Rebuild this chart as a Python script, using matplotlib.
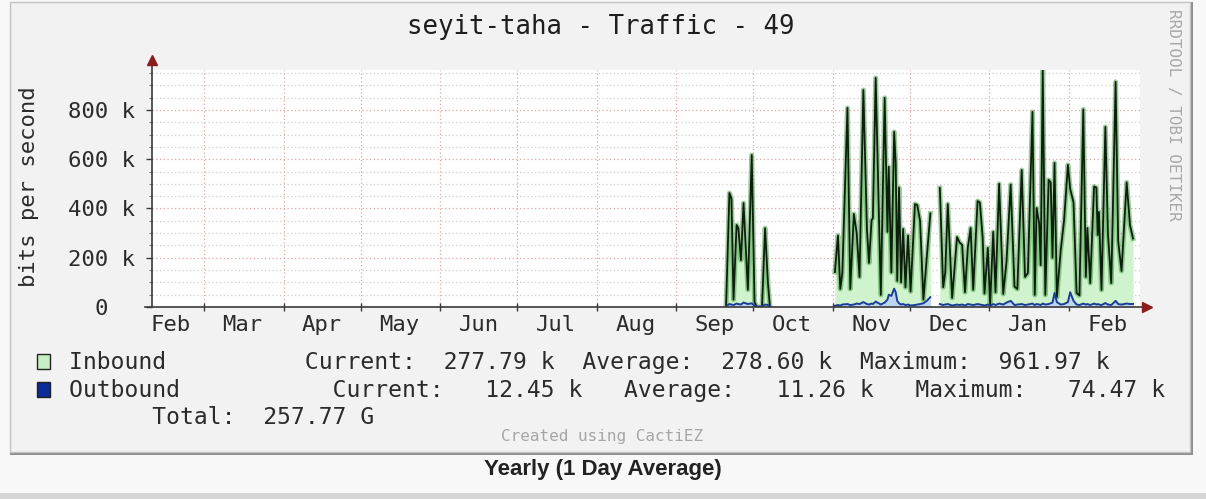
import matplotlib
matplotlib.use('Agg')
import matplotlib.pyplot as plt
from matplotlib.patches import Rectangle
import numpy as np

W, H = 1206, 499

# x = days counted from 1 Mar, values = daily average in kbit/s
sep_days = [203.4, 204.7, 205.5, 206.3, 207.5, 208.2, 209.2, 210.2, 211.9, 213.4,
            214.5, 215.4, 217.4, 218.6, 219.7, 220.5]
sep_in = [5, 463, 440, 30, 333, 320, 190, 422, 70, 617, 20, 0, 0, 320, 100, 0]
sep_out = [3, 12, 10, 8, 14, 12, 10, 18, 12, 15, 5, 2, 2, 10, 8, 2]

nov_days = [245.8, 247.0, 247.9, 248.7, 250.7, 251.8, 253.2, 254.3, 255.4, 256.9,
            258.3, 259.1, 260.1, 260.6, 261.7, 263.7, 265.2, 266.3, 266.8, 267.8,
            268.9, 269.5, 270.1, 270.8, 271.6, 272.4, 273.3, 274.3, 275.3, 277.0,
            277.9, 279.0, 280.3, 281.6, 283.0]
nov_in = [142, 290, 73, 138, 808, 73, 378, 300, 122, 881,
          315, 179, 353, 360, 930, 49, 849, 305, 569, 140,
          711, 585, 106, 485, 100, 317, 80, 290, 63, 418,
          414, 350, 30, 200, 380]
nov_out = [5, 8, 6, 10, 12, 8, 10, 14, 12, 20,
           12, 10, 14, 12, 22, 10, 18, 30, 50, 45,
           74.47, 60, 25, 15, 10, 12, 8, 10, 6, 8,
           10, 12, 15, 25, 40]

dec_days = [286.7, 288.0, 288.8, 289.8, 291.5, 293.4, 294.4, 295.4, 296.5, 297.6,
            298.7, 299.7, 301.4, 302.3, 303.4, 304.1, 305.4, 306.3, 307.5, 308.4,
            309.8, 311.4, 312.7, 314.3, 315.8, 316.9, 318.6, 319.9, 321.0, 322.8,
            323.7, 324.4, 325.4, 326.0, 326.8, 327.8, 329.1, 329.9, 330.6, 331.4,
            332.3, 333.8, 335.1, 336.6, 337.5, 338.8, 340.0, 341.1, 342.6, 343.6,
            344.2, 345.3, 346.8, 347.7, 348.2, 348.7, 349.7, 351.2, 352.2, 353.5,
            355.2, 356.2, 357.5, 359.5, 360.8, 362.0]
dec_in = [483, 80, 140, 418, 37, 284, 262, 252, 60, 240,
          321, 70, 430, 424, 282, 55, 240, 10, 305, 60,
          500, 53, 187, 497, 83, 73, 556, 122, 138, 792,
          49, 402, 341, 170, 961.97, 49, 516, 506, 200, 585,
          40, 230, 350, 577, 480, 424, 57, 47, 802, 122,
          321, 97, 489, 485, 292, 386, 69, 731, 300, 97,
          914, 268, 146, 506, 333, 277.79]
dec_out = [12, 8, 10, 12, 6, 10, 8, 10, 6, 12,
           10, 8, 12, 10, 8, 6, 10, 5, 12, 8,
           14, 10, 18, 25, 8, 10, 12, 8, 10, 14,
           8, 12, 10, 8, 14, 10, 12, 15, 18, 57,
           20, 10, 12, 20, 60, 25, 10, 8, 14, 10,
           12, 8, 14, 10, 12, 10, 8, 16, 10, 8,
           25, 12, 10, 14, 12, 12.45]

month_starts = [-28, 0, 31, 61, 92, 122, 153, 184, 214, 245, 275, 306, 337]
month_names = ['Feb', 'Mar', 'Apr', 'May', 'Jun', 'Jul', 'Aug', 'Sep', 'Oct',
               'Nov', 'Dec', 'Jan', 'Feb']
y_ticks = [0, 200, 400, 600, 800]
y_labels = ['0  ', '200 k', '400 k', '600 k', '800 k']

title = 'seyit-taha - Traffic - 49'
legend_rows = [
    'Inbound          Current:  277.79 k  Average:  278.60 k  Maximum:  961.97 k',
    'Outbound           Current:   12.45 k   Average:   11.26 k   Maximum:   74.47 k',
    '      Total:  257.77 G',
]

x_lo, x_hi = -20.3, 364.7
y_lo, y_hi = 0, 962

MONO = 'DejaVu Sans Mono'
TXT = '#2b2b2b'


def fx(px):
    return px / W


def fy(py):
    return 1 - py / H


fig = plt.figure(figsize=(W / 100, H / 100), dpi=100, facecolor='#f8f8f8')

# panel frame
fig.patches.append(Rectangle((fx(10), fy(455)), fx(1183), 453 / H, transform=fig.transFigure,
                             facecolor='#8e8e8e', edgecolor='none', zorder=-3))
fig.patches.append(Rectangle((fx(10), fy(452)), fx(1180), 450 / H, transform=fig.transFigure,
                             facecolor='#f2f2f2', edgecolor='#c4c4c4', lw=1, zorder=-2))
fig.patches.append(Rectangle((0, 0), 1, 6 / H, transform=fig.transFigure,
                             facecolor='#d6d6d6', edgecolor='none', zorder=-2))

ax = fig.add_axes([fx(152), fy(307), fx(1140 - 152), (307 - 70) / H])
ax.set_facecolor('white')
ax.set_xlim(x_lo, x_hi)
ax.set_ylim(y_lo, y_hi)
for s in ax.spines.values():
    s.set_visible(False)

# grid
for v in np.arange(50, y_hi, 50):
    major = v % 200 == 0
    ax.axhline(v, color='#e3a2a2' if major else '#cdcdcd', lw=0.9,
               ls=(0, (1, 2)), zorder=1)
for m in month_starts:
    if x_lo < m < x_hi:
        ax.axvline(m, color='#e3a2a2', lw=0.9, ls=(0, (1, 2)), zorder=1)

# data
segments = [(sep_days, sep_in, sep_out), (nov_days, nov_in, nov_out),
            (dec_days, dec_in, dec_out)]
for d, vin, vout in segments:
    ax.fill_between(d, 0, vin, color='#cff3cd', lw=0, zorder=2)
    ax.plot(d, vin, color='#3f9a3c', lw=3.6, alpha=0.5, zorder=3)
    ax.plot(d, vin, color='#0c1f0c', lw=1.3, zorder=4)
    ax.fill_between(d, 0, vout, color='#bcd5f0', lw=0, zorder=5)
    ax.plot(d, vout, color='#1b3d98', lw=1.4, zorder=6)

# axes with arrows
ax.plot([x_lo, x_lo], [0, 1003], color='#3a3a3a', lw=1.2, clip_on=False, zorder=7)
ax.plot([x_lo - 2.7, 367.5], [0, 0], color='#3a3a3a', lw=1.2, clip_on=False, zorder=7)
ax.plot([x_lo], [1003], marker='^', color='#8a1c1c', ms=7, clip_on=False, zorder=8)
ax.plot([367.5], [0], marker='>', color='#8a1c1c', ms=7, clip_on=False, zorder=8)

ax.set_yticks(y_ticks)
ax.set_yticklabels(y_labels, family=MONO, fontsize=16, color=TXT)
ax.set_yticks(np.arange(50, 951, 50), minor=True)
ax.tick_params(axis='y', which='major', direction='out', length=4, width=1,
               color='#3a3a3a', pad=8)
ax.tick_params(axis='y', which='minor', direction='out', length=2, width=0.8,
               color='#777777')

ticks_in = [m for m in month_starts if x_lo < m < x_hi]
ax.set_xticks(ticks_in)
ax.set_xticklabels([])
label_pos = [m + 15 for m in month_starts]
ax.set_xticks(label_pos, minor=True)
ax.set_xticklabels(month_names, minor=True, family=MONO, fontsize=16, color=TXT)
ax.tick_params(axis='x', which='major', direction='inout', length=6, width=1,
               color='#3a3a3a')
ax.tick_params(axis='x', which='minor', length=0, pad=6)

# texts
fig.text(fx(601), fy(27), title, family=MONO, fontsize=18.5, color='#1e1e1e',
         ha='center', va='center')
fig.text(fx(29), fy(187), 'bits per second', family=MONO, fontsize=16, color=TXT,
         rotation=90, ha='center', va='center')
fig.text(fx(1173), fy(115), 'RRDTOOL / TOBI OETIKER', family=MONO, fontsize=11.5,
         color='#a8a8a8', rotation=270, ha='center', va='center')

row_y = [362, 390, 418]
for row, yy in zip(legend_rows, row_y):
    fig.text(fx(69), fy(yy), row, family=MONO, fontsize=16.6, color=TXT,
             ha='left', va='center')
fig.patches.append(Rectangle((fx(37), fy(369)), fx(13), 15 / H, transform=fig.transFigure,
                             facecolor='#c6efc6', edgecolor='#222222', lw=1))
fig.patches.append(Rectangle((fx(37), fy(397)), fx(13), 15 / H, transform=fig.transFigure,
                             facecolor='#0a2a98', edgecolor='#222222', lw=1))

fig.text(fx(602), fy(437), 'Created using CactiEZ', family=MONO, fontsize=11.5,
         color='#a6a6a6', ha='center', va='center')
fig.text(fx(603), fy(470), 'Yearly (1 Day Average)',
         family=['Liberation Sans Narrow', 'Liberation Sans'], weight='bold',
         fontsize=16, color='#222222', ha='center', va='center')

fig.savefig('out.png', dpi=100, facecolor=fig.get_facecolor())
